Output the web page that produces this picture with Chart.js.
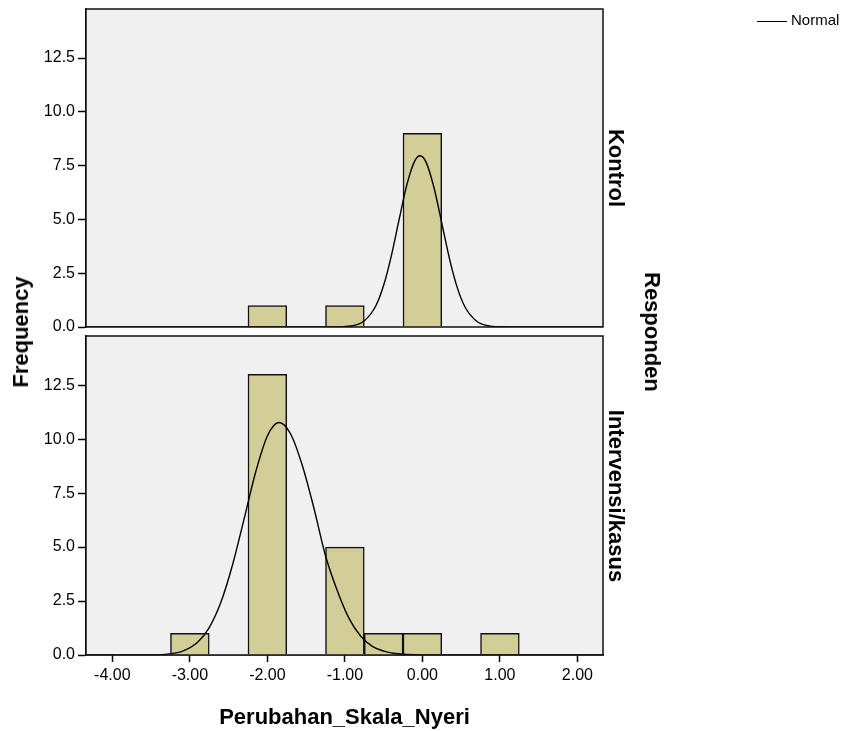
<!DOCTYPE html>
<html>
<head>
<meta charset="utf-8">
<script src="https://cdn.jsdelivr.net/npm/chart.js@4"></script>
<style>
  body { margin: 0; background: #fff; font-family: 'Liberation Sans', Arial, sans-serif; }
  #wrap { position: relative; width: 843px; height: 731px; overflow: hidden; }
  canvas { position: absolute; left: 0; top: 0; }
  .lbl { position: absolute; font-weight: bold; font-size: 22px; white-space: nowrap; line-height: 1; color: #000; }
  .rot90 { transform: translate(-50%, -50%) rotate(90deg); }
  .rotm90 { transform: translate(-50%, -50%) rotate(-90deg); }
  #legend { position: absolute; left: 757px; top: 11px; font-size: 15px; color: #000; }
  #legend span.line { display: inline-block; width: 30px; border-top: 1.5px solid #000; vertical-align: middle; margin-right: 4px; }
</style>
</head>
<body>
<div id="wrap">
  <canvas id="topChart" width="843" height="731"></canvas>
  <canvas id="bottomChart" width="843" height="731"></canvas>
  <div class="lbl rotm90" style="left:21px; top:332px;">Frequency</div>
  <div class="lbl rot90" style="left:616px; top:168px;">Kontrol</div>
  <div class="lbl rot90" style="left:616px; top:496px;">Intervensi/kasus</div>
  <div class="lbl rot90" style="left:652px; top:332px;">Responden</div>
  <div id="legend"><span class="line"></span>Normal</div>
</div>
<script>
// histogram bins (bin width 0.5) and frequencies per group
const binCenters = [-3.0, -2.5, -2.0, -1.5, -1.0, -0.5, 0.0, 0.5, 1.0];
const kontrolFreq = [0, 0, 1, 0, 1, 0, 9, 0, 0];
const intervensiFreq = [1, 0, 13, 0, 5, 1, 1, 0, 1];

// normal curves
const kontrolCurveX = [-4.34, -1.2, -0.9, -0.75, -0.6, -0.5, -0.4, -0.3, -0.2, -0.1, -0.03, 0.05, 0.15, 0.25, 0.35, 0.45, 0.55, 0.7, 0.85, 1.0, 1.3, 2.33];
const kontrolCurveY = [0, 0, 0.06, 0.29, 0.99, 1.94, 3.32, 5.0, 6.62, 7.71, 7.96, 7.64, 6.47, 4.83, 3.17, 1.83, 0.93, 0.27, 0.06, 0.01, 0, 0];
const intervensiCurveX = [-4.34, -3.6, -3.3, -3.1, -2.9, -2.75, -2.6, -2.45, -2.3, -2.15, -2.0, -1.85, -1.7, -1.55, -1.4, -1.25, -1.1, -0.95, -0.8, -0.65, -0.5, -0.35, -0.2, 0.0, 2.33];
const intervensiCurveY = [0, 0, 0.04, 0.17, 0.59, 1.27, 2.44, 4.17, 6.31, 8.49, 10.15, 10.77, 10.24, 8.79, 6.81, 4.6, 3.0, 1.72, 0.89, 0.41, 0.18, 0.07, 0.02, 0, 0];

const xTicks = [-4, -3, -2, -1, 0, 1, 2];
const yTicks = [0, 2.5, 5, 7.5, 10, 12.5];
const xMin = -4.34, xMax = 2.33;
const yMin = 0, yMax = 14.78;

const FONT = "'Liberation Sans', Arial, sans-serif";

const panelFrame = {
    id: 'panelFrame',
    beforeDatasetsDraw(chart) {
        const a = chart.chartArea;
        const ctx = chart.ctx;
        ctx.save();
        ctx.fillStyle = '#f0f0f0';
        ctx.fillRect(a.left, a.top, a.right - a.left, a.bottom - a.top);
        ctx.restore();
    },
    afterDraw(chart) {
        const a = chart.chartArea;
        const ctx = chart.ctx;
        ctx.save();
        ctx.strokeStyle = '#111';
        ctx.lineWidth = 1.5;
        ctx.strokeRect(a.left, a.top, a.right - a.left, a.bottom - a.top);
        ctx.restore();
    }
};

function makePanel(canvasId, freq, curveX, curveY, showX, padding) {
    const ctx = document.getElementById(canvasId).getContext('2d');
    return new Chart(ctx, {
        type: 'bar',
        data: {
            datasets: [{
                type: 'line',
                data: curveX.map((x, i) => ({ x: x, y: curveY[i] })),
                borderColor: '#000',
                borderWidth: 1.4,
                pointRadius: 0,
                cubicInterpolationMode: 'monotone',
                fill: false,
                order: 0
            }, {
                type: 'bar',
                data: binCenters.map((b, i) => ({ x: b, y: freq[i] })),
                backgroundColor: '#d3ce97',
                borderColor: '#111',
                borderWidth: 1.5,
                barPercentage: 1,
                categoryPercentage: 1,
                order: 1
            }]
        },
        options: {
            responsive: false,
            animation: false,
            layout: { padding: padding },
            plugins: { legend: { display: false }, tooltip: { enabled: false } },
            scales: {
                x: {
                    type: 'linear',
                    min: xMin,
                    max: xMax,
                    offset: false,
                    display: showX,
                    afterBuildTicks: (s) => { s.ticks = xTicks.map(v => ({ value: v })); },
                    afterFit: (s) => { if (showX) s.height = 76; },
                    grid: { offset: false, drawOnChartArea: false, drawTicks: true, tickLength: 7, tickColor: '#000', tickWidth: 1.5 },
                    border: { color: '#111', width: 1.5 },
                    ticks: {
                        padding: 4,
                        color: '#000',
                        font: { family: FONT, size: 16 },
                        maxRotation: 0,
                        callback: (v) => Number(v).toFixed(2)
                    },
                    title: {
                        display: true,
                        text: 'Perubahan_Skala_Nyeri',
                        color: '#000',
                        font: { family: FONT, size: 22, weight: 'bold' },
                        padding: { top: 0, bottom: 0 }
                    }
                },
                y: {
                    min: yMin,
                    max: yMax,
                    afterBuildTicks: (s) => { s.ticks = yTicks.map(v => ({ value: v })); },
                    afterFit: (s) => { s.width = 86; s.paddingTop = 0; s.paddingBottom = 0; },
                    grid: { drawOnChartArea: false, drawTicks: true, tickLength: 8, tickColor: '#000', tickWidth: 1.5 },
                    border: { color: '#111', width: 1.5 },
                    ticks: {
                        padding: 3,
                        color: '#000',
                        font: { family: FONT, size: 16 },
                        callback: (v) => Number(v).toFixed(1)
                    }
                }
            }
        },
        plugins: [panelFrame]
    });
}

makePanel('topChart', kontrolFreq, kontrolCurveX, kontrolCurveY, false,
    { top: 9, right: 240, bottom: 404, left: 0 });
makePanel('bottomChart', intervensiFreq, intervensiCurveX, intervensiCurveY, true,
    { top: 336, right: 240, bottom: 0, left: 0 });
</script>
</body>
</html>
